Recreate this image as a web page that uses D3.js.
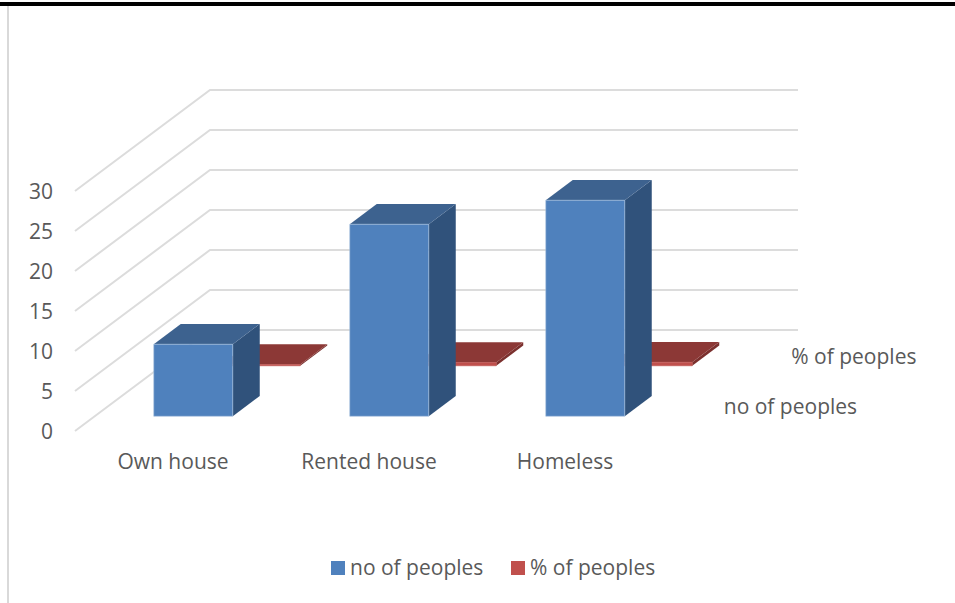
<!DOCTYPE html>
<html><head><meta charset="utf-8">
<script src="https://cdn.jsdelivr.net/npm/d3@7/dist/d3.min.js"></script>
<style>html,body{margin:0;padding:0;background:#fff;overflow:hidden}svg{display:block}text{font-family:"Open Sans",Lato,sans-serif;fill:#595959}</style>
</head><body><svg id="c" width="955" height="603"></svg>
<script>
const categories = ["Own house","Rented house","Homeless"];
const seriesNames = ["no of peoples","% of peoples"];
const noOfPeoples = [9,24,27];
const pctOfPeoples = [0.15,0.40,0.45];
const yTicks = [0,5,10,15,20,25,30];
const seriesValues = [noOfPeoples,pctOfPeoples];
const blue = {front:"#4f81bd",top:"#3d628f",side:"#30527b",edge:"#a9c2df"};
const red = {front:"#c0504d",top:"#8c3836",side:"#7b302e",edge:"#c0504d"};
const palette = [blue,red];

const svg = d3.select("#c");
const x = d3.scaleBand().domain(categories).range([210,798]).paddingInner(117/196).paddingOuter(58.5/196);
const y = d3.scaleLinear().domain([0,30]).range([330,90]);
const z = d3.scaleBand().domain(seriesNames).range([0,1]).paddingInner(0.6).paddingOuter(0.3);
const depthX = 135, depthY = 101;
const project = (u,v,t)=>[u-depthX*(1-t), v+depthY*(1-t)];
const poly = pts=>pts.map(p=>p.join(",")).join(" ");

svg.append("rect").attr("x",0).attr("y",2).attr("width",955).attr("height",4).attr("fill","#000");
svg.append("line").attr("x1",8).attr("x2",8).attr("y1",6).attr("y2",603).attr("stroke","#d9d9d9").attr("stroke-width",2);

svg.append("g").selectAll("polyline").data(yTicks).join("polyline")
  .attr("fill","none").attr("stroke","#dcdcdc").attr("stroke-width",2)
  .attr("points",d=>poly([project(210,y(d),0),project(210,y(d),1),project(798,y(d),1)]));

const labelFont = 21;
svg.append("g").selectAll("text").data(yTicks).join("text")
  .attr("x",d=>project(210,y(d),0)[0]-22).attr("y",d=>project(210,y(d),0)[1]+2.5)
  .attr("text-anchor","end").attr("dominant-baseline","middle").attr("font-size",labelFont).text(d=>d);

const bars = [];
categories.forEach((c,ci)=>{
  [1,0].forEach(si=>{bars.push({c,si,v:seriesValues[si][ci]});});
});
const gBars = svg.append("g").attr("transform","translate(0,0.4)");
bars.forEach(b=>{
  const s = seriesNames[b.si], col = palette[b.si];
  const u0 = x(b.c), u1 = u0+x.bandwidth();
  const t0 = z(s), t1 = t0+z.bandwidth();
  const v0 = y(0), v1 = y(b.v);
  const g = gBars.append("g");
  g.append("polygon").attr("fill",col.side).attr("points",poly([project(u1,v0,t0),project(u1,v0,t1),project(u1,v1,t1),project(u1,v1,t0)]));
  g.append("polygon").attr("fill",col.top).attr("points",poly([project(u0,v1,t0),project(u1,v1,t0),project(u1,v1,t1),project(u0,v1,t1)]));
  g.append("polygon").attr("fill",col.front).attr("stroke",col.edge).attr("stroke-width",0.6)
    .attr("points",poly([project(u0,v0,t0),project(u1,v0,t0),project(u1,v1,t0),project(u0,v1,t0)]));
});

svg.append("g").selectAll("text").data(categories).join("text")
  .attr("x",d=>project(x(d)+x.bandwidth()/2,y(0),0)[0]).attr("y",d=>project(210,y(0),0)[1]+32)
  .attr("text-anchor","middle").attr("dominant-baseline","middle").attr("font-size",labelFont).text(d=>d);

svg.append("g").selectAll("text").data(seriesNames).join("text")
  .attr("x",d=>project(798,y(0),z(d)+z.bandwidth()/2)[0]+27).attr("y",d=>project(798,y(0),z(d)+z.bandwidth()/2)[1]+3)
  .attr("dominant-baseline","middle").attr("font-size",labelFont).text(d=>d);

const legendX = d3.scaleOrdinal().domain(seriesNames).range([331,511]);
const lg = svg.append("g").selectAll("g").data(seriesNames).join("g");
lg.append("rect").attr("x",d=>legendX(d)).attr("y",561).attr("width",14).attr("height",14).attr("fill",(d,i)=>palette[i].front);
lg.append("text").attr("x",d=>legendX(d)+19).attr("y",569).attr("dominant-baseline","middle").attr("font-size",labelFont).text(d=>d);
</script></body></html>
